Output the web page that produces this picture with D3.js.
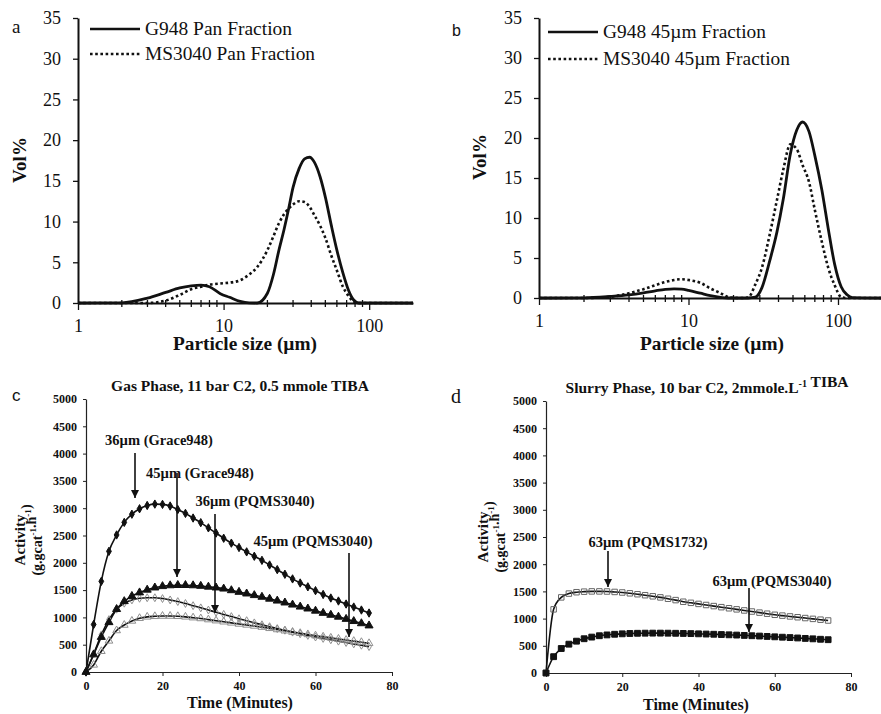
<!DOCTYPE html>
<html>
<head>
<meta charset="utf-8">
<script src="https://cdn.jsdelivr.net/npm/d3@7"></script>
<style>
  body { margin: 0; background: #fff; }
  text { font-family: "Liberation Serif", "Times New Roman", serif; fill: #111; }
</style>
</head>
<body>
<svg id="fig" width="881" height="714"></svg>
<script>
// ---- particle size distributions (a, b) ----
const sizesA = [1, 2, 3, 4, 5, 6, 7, 8, 9.5, 11, 13, 15, 17, 20, 22, 24, 26, 28, 30, 33, 36, 39, 42, 46, 50, 55, 60, 66, 72, 78, 85, 100, 200];
const panG948 = [0, 0.02, 0.6, 1.3, 1.85, 2.1, 2.2, 2.0, 1.15, 0.7, 0.2, 0.02, 0, 1.2, 3.5, 6.5, 9.0, 11.6, 14.2, 16.5, 17.7, 17.9, 17.3, 15.5, 13.0, 9.5, 6.5, 3.7, 1.6, 0.4, 0, 0, 0];
const panMS3040 = [0, 0, 0, 0.3, 1.0, 1.7, 2.0, 2.25, 2.4, 2.5, 2.8, 3.5, 4.4, 6.5, 8.2, 9.8, 10.9, 11.6, 12.1, 12.5, 12.4, 11.8, 10.8, 9.5, 8.0, 5.8, 4.0, 2.0, 0.9, 0.2, 0, 0, 0];

const sizesB = [1, 2, 3, 4, 5, 6, 7, 8, 9, 10, 12, 14, 16, 19, 22, 25, 28, 31, 35, 39, 43, 48, 53, 58, 64, 70, 78, 86, 95, 105, 115, 125, 200];
const f45G948 = [0, 0.02, 0.2, 0.4, 0.65, 0.9, 1.08, 1.15, 1.1, 0.95, 0.6, 0.3, 0.12, 0, 0, 0, 0.1, 1.3, 4.7, 8.2, 12.3, 18.0, 21.0, 22.0, 20.8, 17.8, 13.5, 8.7, 4.2, 1.4, 0.4, 0.05, 0];
const f45MS3040 = [0, 0, 0.15, 0.6, 1.1, 1.6, 2.0, 2.25, 2.35, 2.25, 1.9, 1.2, 0.7, 0.05, 0, 0.05, 1.7, 3.8, 8.0, 12.2, 16.0, 19.2, 18.6, 16.6, 14.5, 11.0, 7.0, 3.8, 1.6, 0.1, 0, 0, 0];

const psdYTicks = [0, 5, 10, 15, 20, 25, 30, 35];
const psdXTicks = [1, 10, 100];
const psdMinorTicks = [2, 3, 4, 5, 6, 7, 8, 9, 20, 30, 40, 50, 60, 70, 80, 90];

// ---- activity profiles (c, d) ----
const times = [0, 2, 4, 6, 8, 10, 12, 14, 16, 18, 20, 22, 24, 26, 28, 30, 32, 34, 36, 38, 40, 42, 44, 46, 48, 50, 52, 54, 56, 58, 60, 62, 64, 66, 68, 70, 72, 74];
const gas36Grace = [0, 870, 1660, 2210, 2510, 2740, 2890, 2990, 3050, 3075, 3070, 3040, 2975, 2905, 2820, 2735, 2640, 2545, 2450, 2360, 2280, 2200, 2120, 2045, 1960, 1875, 1790, 1705, 1630, 1560, 1490, 1420, 1355, 1300, 1245, 1190, 1135, 1080];
const gas45Grace = [0, 320, 640, 910, 1150, 1295, 1390, 1455, 1505, 1545, 1570, 1585, 1590, 1590, 1585, 1575, 1560, 1545, 1525, 1495, 1465, 1435, 1405, 1375, 1340, 1305, 1270, 1232, 1195, 1160, 1120, 1080, 1045, 1010, 970, 930, 890, 850];
const gas36PQ = [0, 330, 680, 960, 1150, 1260, 1320, 1350, 1360, 1360, 1345, 1320, 1290, 1255, 1215, 1175, 1135, 1095, 1055, 1015, 975, 940, 900, 865, 830, 795, 765, 730, 700, 670, 640, 615, 590, 565, 540, 515, 490, 465];
const gas45PQ = [0, 130, 380, 570, 760, 860, 935, 985, 1010, 1020, 1025, 1025, 1020, 1010, 995, 980, 960, 940, 920, 900, 880, 862, 843, 822, 800, 778, 755, 732, 710, 688, 665, 645, 625, 605, 585, 565, 545, 525];
const slurry1732 = [0, 1170, 1390, 1460, 1485, 1495, 1500, 1500, 1498, 1490, 1480, 1465, 1448, 1430, 1410, 1390, 1365, 1340, 1310, 1290, 1270, 1250, 1230, 1210, 1190, 1170, 1150, 1130, 1110, 1090, 1070, 1055, 1040, 1025, 1010, 995, 980, 965];
const slurry3040 = [0, 300, 450, 530, 585, 630, 660, 685, 700, 712, 720, 726, 730, 732, 733, 733, 732, 730, 727, 724, 720, 716, 712, 707, 702, 697, 691, 685, 679, 672, 665, 658, 651, 644, 636, 628, 620, 612];

const actYTicks = [0, 500, 1000, 1500, 2000, 2500, 3000, 3500, 4000, 4500, 5000];
const actXTicks = [0, 20, 40, 60, 80];

const svg = d3.select("#fig");

svg.append("defs").append("marker")
    .attr("id", "arrow")
    .attr("viewBox", "0 0 10 10")
    .attr("refX", 10).attr("refY", 5)
    .attr("markerWidth", 5).attr("markerHeight", 5)
    .attr("markerUnits", "strokeWidth")
    .attr("orient", "auto")
  .append("path")
    .attr("d", "M0,0 L10,5 L0,10 z")
    .attr("fill", "#111");

function drawPsd(cfg) {
    const g = svg.append("g");
    const x = d3.scaleLog().domain([1, 200]).range(cfg.xRange);
    const y = d3.scaleLinear().domain([0, 35]).range(cfg.yRange);

    const yAxis = g.append("g")
        .attr("transform", `translate(${cfg.xRange[0]},0)`)
        .call(d3.axisLeft(y).tickValues(psdYTicks).tickSize(5).tickPadding(12).tickSizeOuter(0));
    const xAxis = g.append("g")
        .attr("transform", `translate(0,${cfg.yRange[0]})`)
        .call(d3.axisBottom(x).tickValues(psdXTicks).tickFormat(d3.format("d")).tickSize(7).tickPadding(9).tickSizeOuter(0));
    g.selectAll(".minor")
        .data(psdMinorTicks)
        .enter()
        .append("line")
            .attr("x1", d => x(d)).attr("x2", d => x(d))
            .attr("y1", cfg.yRange[0] - 3).attr("y2", cfg.yRange[0] + 4)
            .attr("stroke", "#111").attr("stroke-width", 1.3);
    [xAxis, yAxis].forEach(a => {
        a.select(".domain").attr("stroke", "#111").attr("stroke-width", 2);
        a.selectAll(".tick line").attr("stroke", "#111").attr("stroke-width", 1.3);
        a.selectAll("text").attr("font-size", 18).attr("fill", "#222")
            .style("font-family", "'Liberation Serif', serif");
    });

    const line = d3.line()
        .x(d => x(d[0]))
        .y(d => y(d[1]))
        .curve(d3.curveMonotoneX);

    g.append("path")
        .datum(d3.zip(cfg.sizes, cfg.dotted))
        .attr("fill", "none").attr("stroke", "#111")
        .attr("stroke-width", 2.6).attr("stroke-dasharray", "2.6,2.6")
        .attr("d", line);
    g.append("path")
        .datum(d3.zip(cfg.sizes, cfg.solid))
        .attr("fill", "none").attr("stroke", "#111")
        .attr("stroke-width", 2.8)
        .attr("d", line);

    // legend
    const lg = cfg.legend;
    lg.rows.forEach((r, i) => {
        const ly = lg.y + i * lg.dy;
        g.append("line")
            .attr("x1", lg.x).attr("x2", lg.x + 50)
            .attr("y1", ly).attr("y2", ly)
            .attr("stroke", "#111").attr("stroke-width", 2.6)
            .attr("stroke-dasharray", i === 0 ? null : "2.6,2.6");
        g.append("text")
            .attr("x", lg.x + 55).attr("y", ly + 6)
            .attr("font-size", 18.5)
            .attr("textLength", r.w).attr("lengthAdjust", "spacingAndGlyphs")
            .text(r.label);
    });

    g.append("text")
        .attr("transform", `translate(${cfg.yLabelX},${cfg.yLabelY}) rotate(-90)`)
        .attr("text-anchor", "middle").attr("dy", "0.35em")
        .attr("font-size", 19).attr("font-weight", "bold")
        .text("Vol%");
    g.append("text")
        .attr("x", cfg.xLabelX).attr("y", 350)
        .attr("text-anchor", "middle")
        .attr("font-size", 18).attr("font-weight", "bold")
        .attr("textLength", 144).attr("lengthAdjust", "spacingAndGlyphs")
        .text("Particle size (\u00b5m)");
}

function addSup(sel, parts, size) {
    parts.forEach(p => {
        if (p.sup) {
            sel.append("tspan").attr("dy", -size * 0.4).attr("font-size", size * 0.65).text(p.t);
            sel.append("tspan").attr("dy", size * 0.4).text("");
        } else {
            sel.append("tspan").text(p.t);
        }
    });
}

function drawActivity(cfg) {
    const g = svg.append("g");
    const x = d3.scaleLinear().domain([0, 80]).range(cfg.xRange);
    const y = d3.scaleLinear().domain([0, 5000]).range(cfg.yRange);

    const yAxis = g.append("g")
        .attr("transform", `translate(${cfg.xRange[0]},0)`)
        .call(d3.axisLeft(y).tickValues(actYTicks).tickFormat(d3.format("d")).tickSize(3).tickPadding(6).tickSizeOuter(0));
    const xAxis = g.append("g")
        .attr("transform", `translate(0,${cfg.yRange[0]})`)
        .call(d3.axisBottom(x).tickValues(actXTicks).tickSize(4).tickPadding(5).tickSizeOuter(0));
    [xAxis, yAxis].forEach(a => {
        a.select(".domain").attr("stroke", "#222").attr("stroke-width", 1.2);
        a.selectAll(".tick line").attr("stroke", "#222");
        a.selectAll("text").attr("font-size", 12).attr("font-weight", "bold").attr("fill", "#333")
            .style("font-family", "'Liberation Serif', serif");
    });

    const line = d3.line()
        .x(d => x(d[0]))
        .y(d => y(d[1]))
        .curve(d3.curveMonotoneX);

    cfg.series.forEach(s => {
        g.append("path")
            .datum(d3.zip(times, s.values))
            .attr("fill", "none").attr("stroke", "#111").attr("stroke-width", 1.6)
            .attr("d", line);
    });
    cfg.series.forEach(s => {
        g.selectAll(null)
            .data(d3.zip(times, s.values))
            .enter()
            .append("path")
                .attr("transform", d => `translate(${x(d[0])},${y(d[1])})`)
                .attr("d", d3.symbol().type(s.type).size(s.size))
                .attr("fill", s.fill)
                .attr("stroke", s.stroke)
                .attr("stroke-width", 1);
    });

    // annotations
    cfg.notes.forEach(n => {
        g.append("text")
            .attr("x", n.tx).attr("y", n.ty)
            .attr("text-anchor", "middle")
            .attr("font-size", 14.5).attr("font-weight", "bold")
            .text(n.label);
        g.append("line")
            .attr("x1", n.ax).attr("x2", n.ax)
            .attr("y1", n.y1).attr("y2", n.y2)
            .attr("stroke", "#111").attr("stroke-width", 1.6)
            .attr("marker-end", "url(#arrow)");
    });

    const title = g.append("text")
        .attr("x", cfg.titleX).attr("y", cfg.titleY)
        .attr("text-anchor", "middle")
        .attr("font-size", 15.5).attr("font-weight", "bold");
    addSup(title, cfg.title, 15.5);

    g.append("text")
        .attr("transform", `translate(${cfg.yLab1},${cfg.yLabY}) rotate(-90)`)
        .attr("text-anchor", "middle").attr("dy", "0.35em")
        .attr("font-size", 15).attr("font-weight", "bold")
        .text("Activity");
    const yl2 = g.append("text")
        .attr("transform", `translate(${cfg.yLab2},${cfg.yLabY}) rotate(-90)`)
        .attr("text-anchor", "middle").attr("dy", "0.35em")
        .attr("font-size", 14).attr("font-weight", "bold");
    addSup(yl2, [{t: "(g.gcat"}, {t: "-1", sup: true}, {t: ".h"}, {t: "-1", sup: true}, {t: ")"}], 14);

    g.append("text")
        .attr("x", cfg.xLabX).attr("y", cfg.xLabY)
        .attr("text-anchor", "middle")
        .attr("font-size", 16).attr("font-weight", "bold")
        .text("Time (Minutes)");
}

drawPsd({
    xRange: [78, 413], yRange: [303, 18],
    sizes: sizesA, solid: panG948, dotted: panMS3040,
    legend: {x: 90, y: 29, dy: 25, rows: [
        {label: "G948 Pan Fraction", w: 147},
        {label: "MS3040 Pan Fraction", w: 170}]},
    yLabelX: 19, yLabelY: 160, xLabelX: 245
});
drawPsd({
    xRange: [539, 883], yRange: [298, 18],
    sizes: sizesB, solid: f45G948, dotted: f45MS3040,
    legend: {x: 548, y: 32, dy: 27, rows: [
        {label: "G948 45\u00b5m Fraction", w: 163},
        {label: "MS3040 45\u00b5m Fraction", w: 187}]},
    yLabelX: 479, yLabelY: 157, xLabelX: 712
});

const greyStroke = "#8f8f8f";
drawActivity({
    xRange: [86, 392], yRange: [672, 399],
    series: [
        {values: gas45PQ, type: d3.symbolTriangle, size: 26, fill: "none", stroke: greyStroke},
        {values: gas36PQ, type: d3.symbolDiamond, size: 18, fill: "none", stroke: greyStroke},
        {values: gas45Grace, type: d3.symbolTriangle, size: 28, fill: "#111", stroke: "#111"},
        {values: gas36Grace, type: d3.symbolDiamond, size: 20, fill: "#111", stroke: "#111"}
    ],
    notes: [
        {label: "36\u00b5m (Grace948)", tx: 159, ty: 445, ax: 135, y1: 453, y2: 498},
        {label: "45\u00b5m (Grace948)", tx: 200, ty: 478, ax: 177, y1: 473, y2: 577},
        {label: "36\u00b5m (PQMS3040)", tx: 255, ty: 506, ax: 215, y1: 514, y2: 613},
        {label: "45\u00b5m (PQMS3040)", tx: 313, ty: 546, ax: 349, y1: 553, y2: 637}
    ],
    title: [{t: "Gas Phase, 11 bar C2, 0.5 mmole TIBA"}],
    titleX: 240, titleY: 391,
    yLab1: 20, yLab2: 37, yLabY: 540,
    xLabX: 240, xLabY: 708
});
drawActivity({
    xRange: [546, 851], yRange: [673, 401],
    series: [
        {values: slurry1732, type: d3.symbolSquare, size: 30, fill: "none", stroke: "#666"},
        {values: slurry3040, type: d3.symbolSquare, size: 34, fill: "#111", stroke: "#111"}
    ],
    notes: [
        {label: "63\u00b5m (PQMS1732)", tx: 648, ty: 547, ax: 608, y1: 551, y2: 587},
        {label: "63\u00b5m (PQMS3040)", tx: 772, ty: 586, ax: 749, y1: 588, y2: 632}
    ],
    title: [{t: "Slurry Phase, 10 bar C2, 2mmole.L"}, {t: "-1", sup: true}, {t: " TIBA"}],
    titleX: 707, titleY: 393,
    yLab1: 483, yLab2: 500, yLabY: 537,
    xLabX: 696, xLabY: 710
});

// panel letters
svg.append("text").attr("x", 12).attr("y", 33).attr("font-size", 19).text("a");
svg.append("text").attr("x", 452).attr("y", 36).attr("font-size", 16)
    .style("font-family", "'Liberation Sans', sans-serif").text("b");
svg.append("text").attr("x", 12).attr("y", 401).attr("font-size", 17)
    .style("font-family", "'Liberation Sans', sans-serif").text("c");
svg.append("text").attr("x", 451).attr("y", 403).attr("font-size", 20).text("d");
</script>
</body>
</html>
